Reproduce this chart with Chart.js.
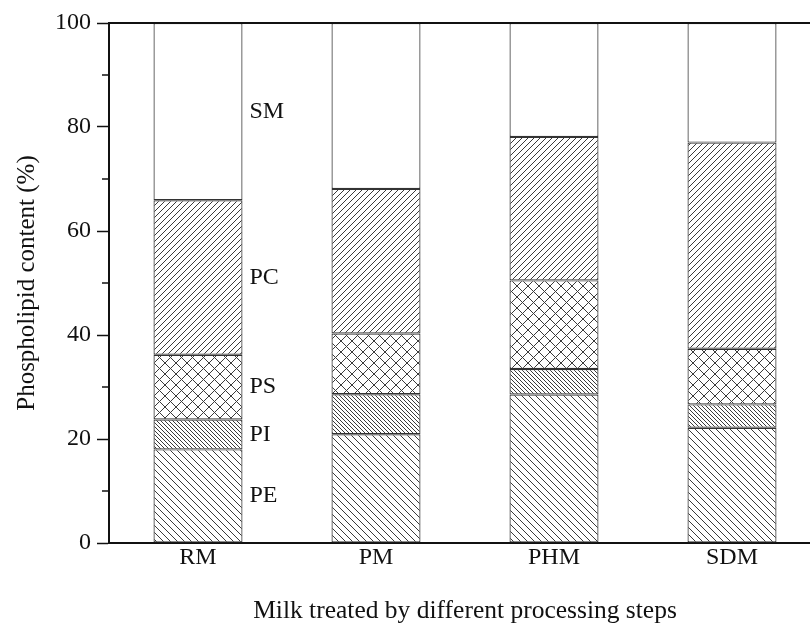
<!DOCTYPE html>
<html lang="en">
<head>
    <meta charset="UTF-8">
    <title>Phospholipid content</title>
    <script src="https://cdn.jsdelivr.net/npm/chart.js"></script>
    <style>
        html, body { margin: 0; padding: 0; background: #fff; overflow: hidden; }
        #wrap { width: 840px; height: 633px; }
    </style>
</head>
<body>
    <div id="wrap"><canvas id="chart" width="840" height="633"></canvas></div>
    <script>
        // categories and values (%)
        const categories = ['RM', 'PM', 'PHM', 'SDM'];
        const peValues = [18.0, 20.9, 28.55, 22.15];
        const piValues = [5.75, 7.7, 4.9, 4.5];
        const psValues = [12.45, 11.7, 17.05, 10.7];
        const pcValues = [29.7, 27.8, 27.6, 39.65];
        const smValues = [34.1, 31.9, 21.9, 23.0];
        const seriesNames = ['PE', 'PI', 'PS', 'PC', 'SM'];
        const yTicks = [0, 20, 40, 60, 80, 100];
        const yMinorTicks = [10, 30, 50, 70, 90];

        const serif = '"Liberation Serif", "Times New Roman", serif';

        // hatch tiles
        function hatch(kind, size) {
            const c = document.createElement('canvas');
            c.width = size; c.height = size;
            const g = c.getContext('2d');
            g.fillStyle = '#fff';
            g.fillRect(0, 0, size, size);
            g.strokeStyle = '#3a3a3a';
            g.lineWidth = 1;
            g.beginPath();
            if (kind === '/' || kind === 'x') {
                g.moveTo(0, size); g.lineTo(size, 0);
                g.moveTo(-1, 1); g.lineTo(1, -1);
                g.moveTo(size - 1, size + 1); g.lineTo(size + 1, size - 1);
            }
            if (kind === '\\' || kind === 'x') {
                g.moveTo(0, 0); g.lineTo(size, size);
                g.moveTo(-1, size - 1); g.lineTo(1, size + 1);
                g.moveTo(size - 1, -1); g.lineTo(size + 1, 1);
            }
            g.stroke();
            return g.createPattern(c, 'repeat');
        }

        const ctx = document.getElementById('chart');
        const fills = [
            hatch('\\', 7),
            hatch('\\', 4),
            hatch('x', 11),
            hatch('/', 6),
            '#ffffff'
        ];
        const allValues = [peValues, piValues, psValues, pcValues, smValues];

        const datasets = seriesNames.map((name, i) => ({
            label: name,
            data: allValues[i],
            backgroundColor: fills[i],
            borderColor: '#333',
            borderWidth: 1.2,
            borderSkipped: false,
            barPercentage: 0.5,
            categoryPercentage: 1.0
        }));

        // frame, minor ticks and segment names next to the first bar
        const extras = {
            id: 'extras',
            afterDraw(chart) {
                const c = chart.ctx;
                const area = chart.chartArea;
                const y = chart.scales.y;
                c.save();
                c.strokeStyle = '#111';
                c.lineWidth = 2;
                c.beginPath();
                c.moveTo(area.left, area.top);
                c.lineTo(area.right, area.top);
                c.lineTo(area.right, area.bottom);
                c.stroke();

                c.lineWidth = 1.5;
                yMinorTicks.forEach(v => {
                    const py = y.getPixelForValue(v);
                    c.beginPath();
                    c.moveTo(area.left - 7, py);
                    c.lineTo(area.left, py);
                    c.stroke();
                });

                c.fillStyle = '#111';
                c.font = '24px ' + serif;
                c.textAlign = 'left';
                c.textBaseline = 'middle';
                seriesNames.forEach((name, i) => {
                    const bar = chart.getDatasetMeta(i).data[0];
                    c.fillText(name, bar.x + bar.width / 2 + 7, (bar.y + bar.base) / 2);
                });
                c.restore();
            }
        };

        new Chart(ctx, {
            type: 'bar',
            data: { labels: categories, datasets: datasets },
            options: {
                responsive: false,
                animation: false,
                layout: { padding: { top: 23, right: 19, bottom: 0, left: 0 } },
                plugins: {
                    legend: { display: false },
                    tooltip: { enabled: false }
                },
                scales: {
                    x: {
                        stacked: true,
                        afterFit(scale) { scale.height = 90; },
                        grid: { display: false, drawTicks: false },
                        border: { display: true, color: '#111', width: 2 },
                        ticks: {
                            color: '#111',
                            padding: 0,
                            font: { family: serif, size: 24 }
                        },
                        title: {
                            display: true,
                            text: 'Milk treated by different processing steps',
                            color: '#111',
                            font: { family: serif, size: 25.5 },
                            padding: { top: 0, bottom: 6 }
                        }
                    },
                    y: {
                        stacked: true,
                        min: 0,
                        max: 100,
                        afterFit(scale) { scale.width = 109; },
                        afterBuildTicks(scale) {
                            scale.ticks = yTicks.map(v => ({ value: v }));
                        },
                        grid: {
                            drawOnChartArea: false,
                            drawTicks: true,
                            tickLength: 12,
                            tickColor: '#111',
                            tickWidth: 1.5
                        },
                        border: { display: true, color: '#111', width: 2 },
                        ticks: {
                            color: '#111',
                            padding: 6,
                            font: { family: serif, size: 24 }
                        },
                        title: {
                            display: true,
                            text: 'Phospholipid content (%)',
                            color: '#111',
                            font: { family: serif, size: 25 },
                            padding: { top: 12, bottom: 0 }
                        }
                    }
                }
            },
            plugins: [extras]
        });
    </script>
</body>
</html>
